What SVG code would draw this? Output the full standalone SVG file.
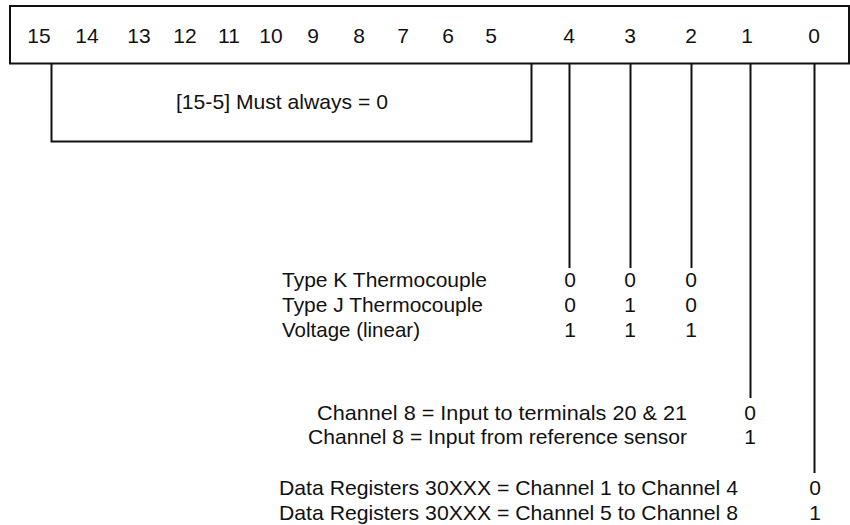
<svg xmlns="http://www.w3.org/2000/svg" width="850" height="525" viewBox="0 0 850 525">
<style>
text{font-family:"Liberation Sans",Arial,sans-serif;font-size:21px;fill:#111}
.c{text-anchor:middle}
.ln{stroke:#111;stroke-width:2;fill:none}
</style>
<rect width="850" height="525" fill="#fff"/>
<g id="register">
<rect class="ln" x="10" y="6" width="839" height="57.5"/>
<text class="c" x="39" y="43">15</text>
<text class="c" x="87" y="43">14</text>
<text class="c" x="139" y="43">13</text>
<text class="c" x="185" y="43">12</text>
<text class="c" x="229" y="43">11</text>
<text class="c" x="271" y="43">10</text>
<text class="c" x="313" y="43">9</text>
<text class="c" x="359" y="43">8</text>
<text class="c" x="403" y="43">7</text>
<text class="c" x="448" y="43">6</text>
<text class="c" x="491" y="43">5</text>
<text class="c" x="569" y="43">4</text>
<text class="c" x="630" y="43">3</text>
<text class="c" x="691" y="43">2</text>
<text class="c" x="747" y="43">1</text>
<text class="c" x="814" y="43">0</text>
</g>
<g id="connectors">
<polyline class="ln" points="51.5,63.5 51.5,141.5 531.5,141.5 531.5,63.5"/>
<line class="ln" x1="569.5" y1="63.5" x2="569.5" y2="268"/>
<line class="ln" x1="630.5" y1="63.5" x2="630.5" y2="268"/>
<line class="ln" x1="691.5" y1="63.5" x2="691.5" y2="268"/>
<line class="ln" x1="750.5" y1="63.5" x2="750.5" y2="398"/>
<line class="ln" x1="814.5" y1="63.5" x2="814.5" y2="473"/>
</g>
<g id="reserved">
<text x="176" y="109" textLength="212" lengthAdjust="spacingAndGlyphs">[15-5] Must always = 0</text>
</g>
<g id="input-type">
<text x="282" y="287" textLength="205" lengthAdjust="spacingAndGlyphs">Type K Thermocouple</text>
<text x="282" y="312" textLength="201" lengthAdjust="spacingAndGlyphs">Type J Thermocouple</text>
<text x="282" y="337" textLength="138" lengthAdjust="spacingAndGlyphs">Voltage (linear)</text>
<text class="c" x="570" y="287">0</text>
<text class="c" x="630" y="287">0</text>
<text class="c" x="691" y="287">0</text>
<text class="c" x="570" y="312">0</text>
<text class="c" x="630" y="312">1</text>
<text class="c" x="691" y="312">0</text>
<text class="c" x="570" y="337">1</text>
<text class="c" x="630" y="337">1</text>
<text class="c" x="691" y="337">1</text>
</g>
<g id="channel8">
<text x="317" y="420" textLength="370" lengthAdjust="spacingAndGlyphs">Channel 8 = Input to terminals 20 &amp; 21</text>
<text x="308" y="444" textLength="379" lengthAdjust="spacingAndGlyphs">Channel 8 = Input from reference sensor</text>
<text class="c" x="750" y="420">0</text>
<text class="c" x="750" y="444">1</text>
</g>
<g id="data-registers">
<text x="279" y="495" textLength="459" lengthAdjust="spacingAndGlyphs">Data Registers 30XXX = Channel 1 to Channel 4</text>
<text x="279" y="520" textLength="459" lengthAdjust="spacingAndGlyphs">Data Registers 30XXX = Channel 5 to Channel 8</text>
<text class="c" x="815" y="495">0</text>
<text class="c" x="815" y="520">1</text>
</g>
</svg>
